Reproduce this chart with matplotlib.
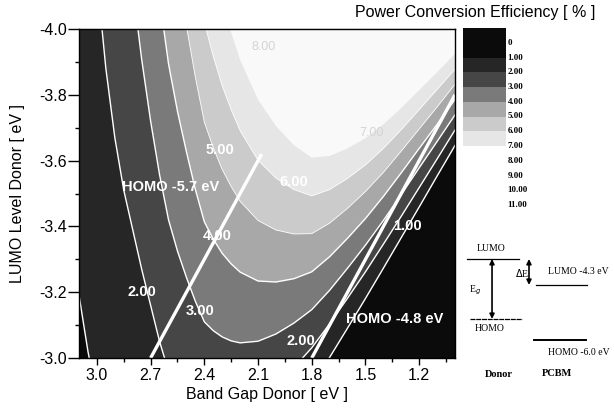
import matplotlib
matplotlib.use('Agg')
import matplotlib.pyplot as plt

plt.rcParams['font.family'] = ['Liberation Sans', 'DejaVu Sans']
plt.rcParams['axes.unicode_minus'] = False

# donor band gap (eV) at which the contour LUMO levels were read
band_gap = [1.0, 1.1, 1.2, 1.3, 1.4, 1.5, 1.6, 1.7, 1.8, 1.9, 2.0, 2.1, 2.2, 2.25,
            2.3, 2.35, 2.4, 2.45, 2.5, 2.55, 2.6, 2.65, 2.7, 2.75, 2.8, 2.85,
            2.9, 2.95, 3.0, 3.05, 3.1]

# LUMO level (eV) of each efficiency contour, one value per band gap above
lumo_1 = [-3.646, -3.553, -3.459, -3.366, -3.273, -3.181, -3.091, -3.002, -2.916,
          -2.835, -2.758, -2.684, -2.615, -2.584, -2.555, -2.528, -2.503, -2.491,
          -2.482, -2.475, -2.473, -2.486, -2.507, -2.536, -2.576, -2.623, -2.686,
          -2.772, -2.879, -3.020, -3.191]
lumo_2 = [-3.693, -3.605, -3.518, -3.431, -3.346, -3.262, -3.182, -3.104, -3.031,
          -2.971, -2.916, -2.867, -2.830, -2.818, -2.809, -2.806, -2.807, -2.831,
          -2.864, -2.900, -2.960, -3.05, -3.16, -3.27, -3.39, -3.51, -3.67, -3.88,
          -4.158]
lumo_3 = [-3.739, -3.658, -3.578, -3.497, -3.418, -3.343, -3.273, -3.206, -3.147,
          -3.106, -3.073, -3.051, -3.046, -3.052, -3.064, -3.083, -3.110, -3.172,
          -3.245, -3.325, -3.420, -3.557, -3.720, -3.908, -4.128]
lumo_4 = [-3.786, -3.710, -3.637, -3.563, -3.491, -3.424, -3.364, -3.308, -3.262,
          -3.241, -3.231, -3.234, -3.261, -3.286, -3.318, -3.361, -3.414, -3.512,
          -3.627, -3.750, -3.894, -4.092]
lumo_5 = [-3.832, -3.763, -3.696, -3.629, -3.564, -3.506, -3.455, -3.410, -3.378,
          -3.377, -3.389, -3.418, -3.476, -3.521, -3.573, -3.639, -3.717, -3.853,
          -4.009, -4.175]
lumo_6 = [-3.878, -3.816, -3.755, -3.694, -3.637, -3.587, -3.546, -3.512, -3.493,
          -3.512, -3.547, -3.601, -3.691, -3.755, -3.827, -3.917, -4.020, -4.194]
lumo_7 = [-3.925, -3.868, -3.814, -3.760, -3.710, -3.668, -3.637, -3.614, -3.609,
          -3.647, -3.705, -3.785, -3.906, -3.989, -4.082, -4.195]
contours = [lumo_1, lumo_2, lumo_3, lumo_4, lumo_5, lumo_6, lumo_7]

# grey for each efficiency band (0-1, 1-2, ..., 6-7, >7)
band_colors = ['#0b0b0b', '#262626', '#464646', '#7a7a7a', '#a8a8a8',
               '#cbcbcb', '#e6e6e6', '#f9f9f9']

# colorbar labels
cbar_values = list(range(12))
cbar_labels = ['0', '1.00', '2.00', '3.00', '4.00', '5.00', '6.00', '7.00',
               '8.00', '9.00', '10.00', '11.00']

# contour labels: text, band gap, LUMO
contour_labels = [('2.00', 2.747, -3.200), ('3.00', 2.423, -3.142),
                  ('4.00', 2.327, -3.370), ('5.00', 2.310, -3.633),
                  ('6.00', 1.902, -3.536), ('1.00', 1.264, -3.400),
                  ('2.00', 1.863, -3.052)]
faint_labels = [('8.00', 2.07, -3.945), ('7.00', 1.465, -3.685)]

# constant HOMO lines (eV) and the band gap span they are drawn over
homo_levels = [-5.7, -4.8]
homo_spans = [(2.7, 2.08), (1.8, 1.0)]
homo_text = [('HOMO -5.7 eV', 2.590, -3.521), ('HOMO -4.8 eV', 1.336, -3.118)]

# energy level scheme (eV)
donor_lumo, donor_homo = -3.5, -5.35
pcbm_lumo, pcbm_homo = -4.3, -6.0

fig = plt.figure(figsize=(6.14, 4.17), dpi=100)
ax = fig.add_axes([79 / 614, 1 - 358 / 417, 376 / 614, 329 / 417])
ax.set_facecolor(band_colors[0])

for k, lumo in enumerate(contours):
    eg = band_gap[:len(lumo)]
    xs = list(eg) + [eg[-1] + 0.2, eg[-1] + 0.2, 0.8, 0.8]
    ys = list(lumo) + [lumo[-1], -4.6, -4.6, lumo[0]]
    ax.fill(xs, ys, color=band_colors[k + 1], lw=0, zorder=1)

for k, lumo in enumerate(contours[:6]):
    eg = band_gap[:len(lumo)]
    ax.plot(eg, lumo, color='white', lw=1.0 if k < 4 else 0.6, zorder=2)

for homo, (e0, e1) in zip(homo_levels, homo_spans):
    ax.plot([e0, e1], [homo + e0, homo + e1], color='white', lw=2.4,
            solid_capstyle='butt', zorder=3)

for txt, x, y in contour_labels:
    ax.text(x, y, txt, color='white', fontsize=10.5, fontweight='bold',
            ha='center', va='center', zorder=4)
for txt, x, y in faint_labels:
    ax.text(x, y, txt, color='#d4d4d4', fontsize=9, ha='center', va='center',
            zorder=4)
for txt, x, y in homo_text:
    ax.text(x, y, txt, color='white', fontsize=10.5, fontweight='bold',
            ha='center', va='center', zorder=4)

ax.set_xlim(3.1, 1.0)
ax.set_ylim(-3.0, -4.0)
ax.set_xticks([3.0, 2.7, 2.4, 2.1, 1.8, 1.5, 1.2])
ax.set_xticks([2.85, 2.55, 2.25, 1.95, 1.65, 1.35, 1.05], minor=True)
ax.set_yticks([-4.0, -3.8, -3.6, -3.4, -3.2, -3.0])
ax.set_yticks([-3.9, -3.7, -3.5, -3.3, -3.1], minor=True)
ax.xaxis.set_major_formatter(plt.FormatStrFormatter('%.1f'))
ax.yaxis.set_major_formatter(plt.FormatStrFormatter('%.1f'))
ax.tick_params(which='major', direction='out', length=5, width=1, labelsize=11.5)
ax.tick_params(which='minor', direction='out', length=3, width=1)
ax.tick_params(axis='y', which='major', length=8, pad=1)
ax.tick_params(axis='x', which='major', pad=2)
ax.set_xlabel('Band Gap Donor [ eV ]', fontsize=11.5, labelpad=3)
ax.set_ylabel('LUMO Level Donor [ eV ]', fontsize=11.5, labelpad=10)
for s in ax.spines.values():
    s.set_linewidth(1.0)
    s.set_zorder(5)

top = ax.secondary_xaxis('top')
top.set_xticks([3.0, 2.7, 2.4, 2.1, 1.8, 1.5, 1.2])
top.set_xticks([2.85, 2.55, 2.25, 1.95, 1.65, 1.35, 1.05], minor=True)
top.tick_params(which='both', direction='in', labeltop=False, length=4)

# colorbar
cax = fig.add_axes([463 / 614, 1 - 146 / 417, 43 / 614, 118 / 417])
cells = [band_colors[0], band_colors[0]] + band_colors[1:7]
for i, c in enumerate(cells):
    cax.axhspan(i - 1, i, color=c, lw=0)
cax.set_ylim(7, -1)
cax.set_xlim(0, 1)
cax.axis('off')
for v, lab in zip(cbar_values, cbar_labels):
    cax.text(1.04, v, lab, transform=cax.get_yaxis_transform(), ha='left',
             va='center', fontsize=6.5, family='Liberation Serif', fontweight='bold')

fig.text(355 / 614, 1 - 13 / 417, 'Power Conversion Efficiency [ % ]',
         fontsize=11.5, ha='left', va='center')

# energy level scheme
dax = fig.add_axes([460 / 614, 1 - 390 / 417, 154 / 614, 150 / 417])
dax.set_xlim(0, 1)
dax.set_ylim(-7.543, -2.914)
dax.axis('off')
serif = dict(family='Liberation Serif', fontsize=7)
dax.plot([0.045, 0.383], [donor_lumo, donor_lumo], color='black', lw=0.9)
dax.plot([0.065, 0.40], [donor_homo, donor_homo], color='black', lw=0.9,
         ls=(0, (4, 0.6)))
dax.plot([0.494, 0.825], [pcbm_lumo, pcbm_lumo], color='black', lw=0.9)
dax.plot([0.48, 0.815], [pcbm_homo, pcbm_homo], color='black', lw=1.4)
dax.annotate('', xy=(0.208, donor_homo), xytext=(0.208, donor_lumo),
             arrowprops=dict(arrowstyle='<|-|>', color='black', lw=1.2,
                             mutation_scale=7, shrinkA=0, shrinkB=0))
dax.annotate('', xy=(0.448, pcbm_lumo), xytext=(0.448, donor_lumo),
             arrowprops=dict(arrowstyle='<|-|>', color='black', lw=1.2,
                             mutation_scale=7, shrinkA=0, shrinkB=0))
dax.text(0.201, -3.19, 'LUMO', ha='center', va='center', **serif)
dax.text(0.195, -5.66, 'HOMO', ha='center', va='center', **serif)
dax.text(0.097, -4.457, r'E$_g$', ha='center', va='center', **serif)
dax.text(0.403, -3.932, r'$\Delta$E', ha='center', va='center', **serif)
dax.text(0.766, -3.901, 'LUMO -4.3 eV', ha='center', va='center', **serif)
dax.text(0.773, -6.40, 'HOMO -6.0 eV', ha='center', va='center', **serif)
dax.text(0.253, -7.08, 'Donor', ha='center', va='center', family='Liberation Serif',
         fontsize=7.5, fontweight='bold')
dax.text(0.63, -7.02, 'PCBM', ha='center', va='center', family='Liberation Serif',
         fontsize=7.5, fontweight='bold')

fig.savefig('out.png', dpi=100)
